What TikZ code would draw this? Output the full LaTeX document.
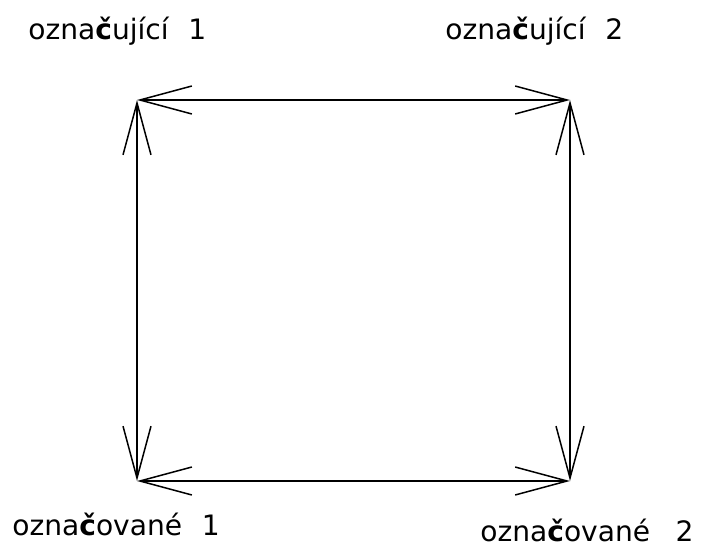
\documentclass[tikz,border=0pt]{standalone}
\usepackage{fontspec}
\setmainfont{DejaVu Sans}
\usepackage{tikz}
\usetikzlibrary{arrows.meta}

\begin{document}
\begin{tikzpicture}[
    x=0.02cm, y=-0.02cm,
    lbl/.style={anchor=base west, inner sep=0pt, font=\fontsize{16}{18}\selectfont},
    arr/.style={{Straight Barb[length=1.04cm, width=0.56cm]}-{Straight Barb[length=1.04cm, width=0.56cm]}, line width=0.03cm},
]
\useasboundingbox (0,0) rectangle (702,550);

\coordinate (tl) at (137,100);
\coordinate (tr) at (570,100);
\coordinate (bl) at (137,481);
\coordinate (br) at (570,481);

\node[lbl] (sgn1) at (28,40) {ozna{\bfseries č}ující\hspace{0.7em}1};
\node[lbl] (sgn2) at (445,40) {ozna{\bfseries č}ující\hspace{0.7em}2};
\node[lbl] (sgd1) at (12,535) {ozna{\bfseries č}ované\hspace{0.7em}1};
\node[lbl] (sgd2) at (480,541) {ozna{\bfseries č}ované\hspace{0.9em}2};

\draw[arr] (tl) -- (tr);
\draw[arr] (tl) -- (bl);
\draw[arr] (tr) -- (br);
\draw[arr] (bl) -- (br);
\end{tikzpicture}
\end{document}
